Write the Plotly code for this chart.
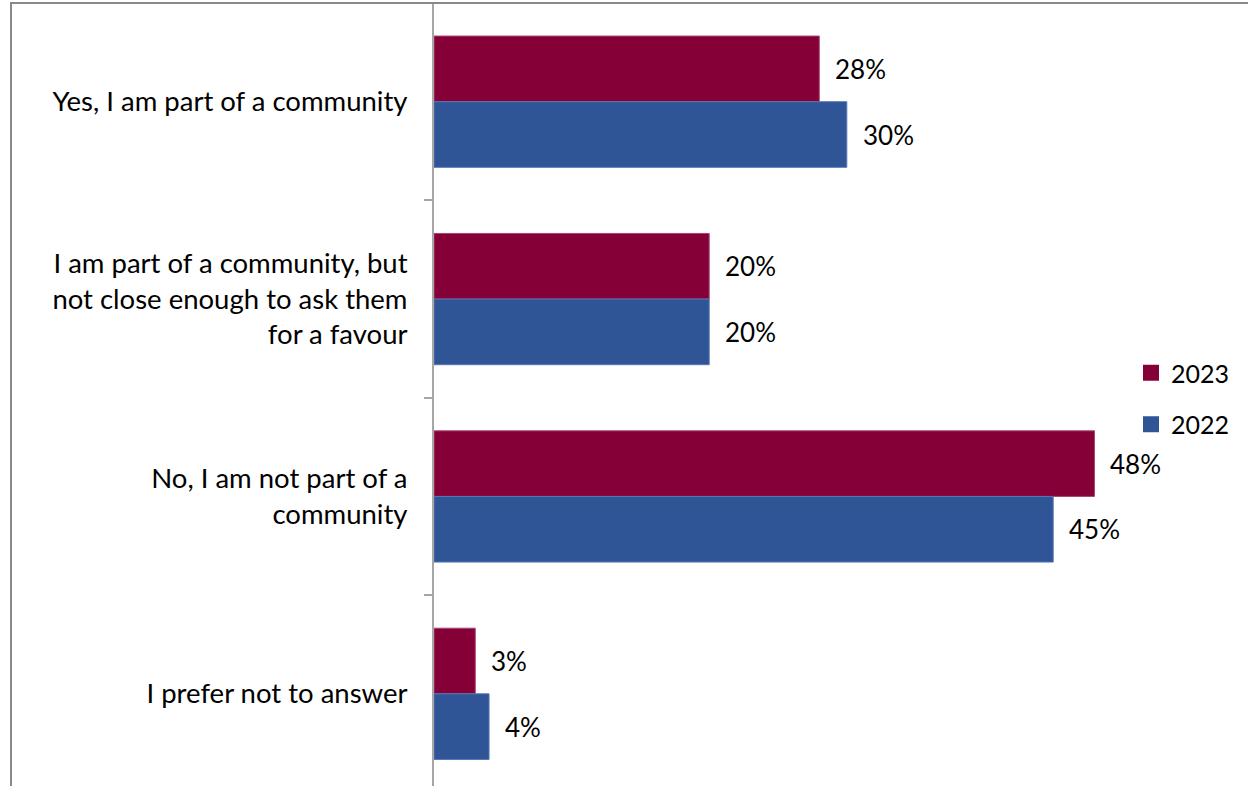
import plotly.graph_objects as go

# Survey answers (top to bottom) and the share of respondents per year
categories = [
    "Yes, I am part of a community",
    "I am part of a community, but<br>not close enough to ask them<br>for a favour",
    "No, I am not part of a<br>community",
    "I prefer not to answer",
]
years = ["2023", "2022"]
values_2023 = [28, 20, 48, 3]
values_2022 = [30, 20, 45, 4]

series = [
    ("2023", values_2023, "#860038", "#a8446f"),
    ("2022", values_2022, "#2f5597", "#5577b3"),
]

FONT = "Lato, Carlito, Calibri, sans-serif"
BARGAP = 0.335
W, H = 1248, 786
ML, MR, MT, MB = 434, 126, 3, 0

fig = go.Figure()

for name, vals, color, edge in series:
    fig.add_trace(go.Bar(
        y=categories, x=vals, name=name, orientation="h",
        marker=dict(color=color, line=dict(color=edge, width=1)),
        showlegend=False, hoverinfo="skip",
    ))
    # legend entry drawn with a larger square swatch
    fig.add_trace(go.Scatter(
        x=[None], y=[None], mode="markers", name=name, legendgroup=name,
        marker=dict(symbol="square", size=17, color=color),
    ))

# value labels just right of each bar end
half = (1 - BARGAP) / 4
for k, (name, vals, color, edge) in enumerate(series):
    off = -half if k == 0 else half
    for i, v in enumerate(vals):
        fig.add_annotation(
            x=v, y=i + off, text=f"{v}%", showarrow=False,
            xanchor="left", yanchor="middle", xshift=14,
            font=dict(family=FONT, size=26, color="#000000"),
        )

# outer chart border
pw = W - ML - MR
fig.add_shape(
    type="rect", xref="paper", yref="paper",
    x0=(11 - ML) / pw, x1=1.5, y0=-0.5, y1=1.0,
    line=dict(color="#898989", width=2), fillcolor="rgba(0,0,0,0)", layer="above",
)

fig.update_layout(
    width=W, height=H,
    margin=dict(l=ML, r=MR, t=MT, b=MB, pad=0),
    paper_bgcolor="white", plot_bgcolor="white",
    barmode="group", bargap=BARGAP, bargroupgap=0,
    font=dict(family=FONT, size=27, color="#000000"),
    legend=dict(
        xref="container", yref="container",
        x=1131 / W, y=1 - 350 / H, xanchor="left", yanchor="top",
        traceorder="grouped", tracegroupgap=16,
        font=dict(family=FONT, size=25, color="#000000"),
        bgcolor="rgba(0,0,0,0)",
    ),
    xaxis=dict(
        range=[0, 50], visible=False, showgrid=False, zeroline=False,
    ),
    yaxis=dict(
        type="category", range=[3.467, -0.5],
        showline=True, linecolor="#a6a6a6", linewidth=2,
        ticks="outside", ticklen=8, tickwidth=2, tickcolor="#a6a6a6",
        tickson="boundaries", ticklabelstandoff=19,
        showgrid=False, zeroline=False,
        tickfont=dict(family=FONT, size=27.5, color="#000000"),
    ),
)

fig.write_html("out.html")
